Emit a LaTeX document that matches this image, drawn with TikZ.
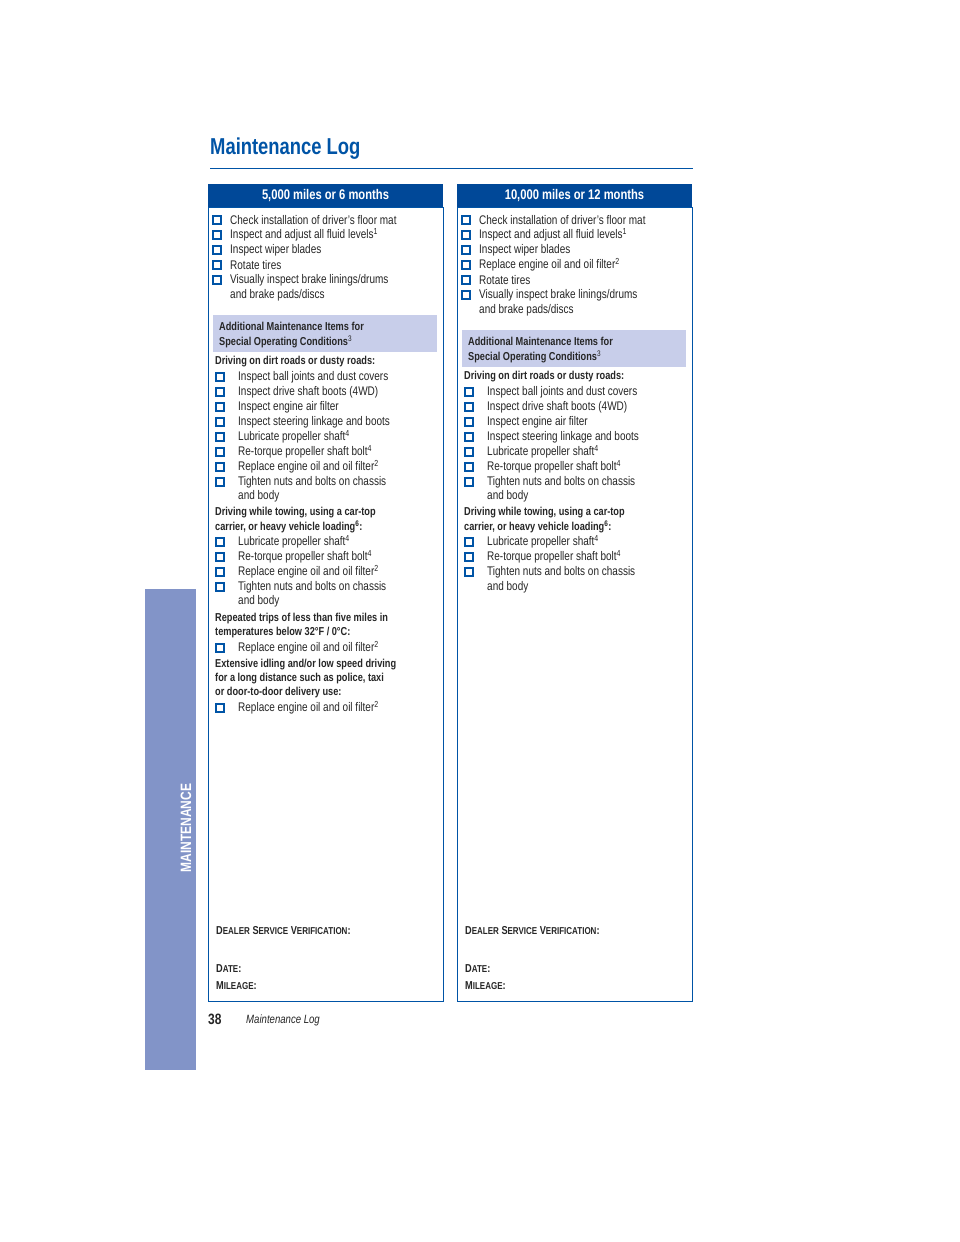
\documentclass[tikz,border=0pt]{standalone}
\usepackage{fontspec}
\setmainfont{Liberation Sans}[FakeStretch=0.8]
\definecolor{tblue}{RGB}{0,84,166}
\definecolor{hblue}{RGB}{0,72,152}
\definecolor{side}{RGB}{130,148,200}
\definecolor{gbox}{RGB}{200,206,234}
\newcommand\cbx[4]{\draw[cb] (#1-4,#2-4) rectangle (#1+4,#2+4); \node[txt] at (#3,#2) {#4};}
\newcommand\lnx[3]{\node[txt] at (#1,#2) {#3};}
\newcommand\hd[3]{\node[hdt] at (#1,#2) {#3};}
\newcommand\sct[1]{{\fontsize{10}{12}\selectfont\bfseries #1}}
\begin{document}
\begin{tikzpicture}[x=1pt,y=-1pt,
 txt/.style={anchor=west,inner sep=0,font=\fontsize{12.5}{15}\selectfont,text=black!85},
 hdt/.style={anchor=west,inner sep=0,font=\fontsize{11.5}{14}\selectfont\bfseries,text=black!85},
 cb/.style={draw=tblue,line width=1.1pt},
 panel/.style={draw=tblue,line width=0.8pt}]
\useasboundingbox (0,0) rectangle (960,1242);
\fill[white] (0,0) rectangle (960,1242);
\node[anchor=west,inner sep=0,font=\fontsize{23}{26}\selectfont\bfseries,text=tblue] (title) at (210,149) {Maintenance Log};
\draw[tblue,line width=0.6pt] (210,168) -- (693,168);
% sidebar
\fill[side] (145,589) rectangle (196,1070);
\node[rotate=90,font=\fontsize{15}{18}\selectfont\bfseries,text=white] (side) at (186,828) {MAINTENANCE};
% footer
\node[anchor=west,inner sep=0,font=\fontsize{15}{18}\selectfont\bfseries,text=black!85] (pg) at (208,1019) {38};
\node[anchor=west,inner sep=0,font=\fontsize{12}{14}\selectfont\itshape,text=black!85] (ft) at (246,1020) {Maintenance Log};
% left panel
\draw[panel] (208,207) rectangle (443,1001);
\fill[hblue] (208,184) rectangle (443,207);
\node[font=\fontsize{14}{16}\selectfont\bfseries,text=white] (h1) at (325.5,195.5) {5,000 miles or 6 months};
\cbx{217}{220}{230}{Check installation of driver’s floor mat}
\cbx{217}{235}{230}{Inspect and adjust all fluid levels\textsuperscript{1}}
\cbx{217}{250}{230}{Inspect wiper blades}
\cbx{217}{265}{230}{Rotate tires}
\cbx{217}{280}{230}{Visually inspect brake linings/drums}
\lnx{230}{295}{and brake pads/discs}
\fill[gbox] (213,315) rectangle (437,352);
\hd{219}{326}{Additional Maintenance Items for}
\hd{219}{342}{Special Operating Conditions\textsuperscript{\normalfont 3}}
\hd{215}{362}{Driving on dirt roads or dusty roads:}
\cbx{220}{377}{238}{Inspect ball joints and dust covers}
\cbx{220}{392}{238}{Inspect drive shaft boots (4WD)}
\cbx{220}{407}{238}{Inspect engine air filter}
\cbx{220}{422}{238}{Inspect steering linkage and boots}
\cbx{220}{437}{238}{Lubricate propeller shaft\textsuperscript{4}}
\cbx{220}{452}{238}{Re-torque propeller shaft bolt\textsuperscript{4}}
\cbx{220}{467}{238}{Replace engine oil and oil filter\textsuperscript{2}}
\cbx{220}{482}{238}{Tighten nuts and bolts on chassis}
\lnx{238}{496}{and body}
\hd{215}{513}{Driving while towing, using a car-top}
\hd{215}{527}{carrier, or heavy vehicle loading\textsuperscript{6}:}
\cbx{220}{542}{238}{Lubricate propeller shaft\textsuperscript{4}}
\cbx{220}{557}{238}{Re-torque propeller shaft bolt\textsuperscript{4}}
\cbx{220}{572}{238}{Replace engine oil and oil filter\textsuperscript{2}}
\cbx{220}{587}{238}{Tighten nuts and bolts on chassis}
\lnx{238}{601}{and body}
\hd{215}{619}{Repeated trips of less than five miles in}
\hd{215}{633}{temperatures below 32°F / 0°C:}
\cbx{220}{648}{238}{Replace engine oil and oil filter\textsuperscript{2}}
\hd{215}{665}{Extensive idling and/or low speed driving}
\hd{215}{679}{for a long distance such as police, taxi}
\hd{215}{693}{or door-to-door delivery use:}
\cbx{220}{708}{238}{Replace engine oil and oil filter\textsuperscript{2}}
\hd{216}{931}{D\sct{EALER} S\sct{ERVICE} V\sct{ERIFICATION}:}
\hd{216}{969}{D\sct{ATE}:}
\hd{216}{986}{M\sct{ILEAGE}:}
% right panel
\draw[panel] (457,207) rectangle (692,1001);
\fill[hblue] (457,184) rectangle (692,207);
\node[font=\fontsize{14}{16}\selectfont\bfseries,text=white] (h2) at (574.5,195.5) {10,000 miles or 12 months};
\cbx{466}{220}{479}{Check installation of driver’s floor mat}
\cbx{466}{235}{479}{Inspect and adjust all fluid levels\textsuperscript{1}}
\cbx{466}{250}{479}{Inspect wiper blades}
\cbx{466}{265}{479}{Replace engine oil and oil filter\textsuperscript{2}}
\cbx{466}{280}{479}{Rotate tires}
\cbx{466}{295}{479}{Visually inspect brake linings/drums}
\lnx{479}{310}{and brake pads/discs}
\fill[gbox] (462,330) rectangle (686,367);
\hd{468}{341}{Additional Maintenance Items for}
\hd{468}{357}{Special Operating Conditions\textsuperscript{\normalfont 3}}
\hd{464}{377}{Driving on dirt roads or dusty roads:}
\cbx{469}{392}{487}{Inspect ball joints and dust covers}
\cbx{469}{407}{487}{Inspect drive shaft boots (4WD)}
\cbx{469}{422}{487}{Inspect engine air filter}
\cbx{469}{437}{487}{Inspect steering linkage and boots}
\cbx{469}{452}{487}{Lubricate propeller shaft\textsuperscript{4}}
\cbx{469}{467}{487}{Re-torque propeller shaft bolt\textsuperscript{4}}
\cbx{469}{482}{487}{Tighten nuts and bolts on chassis}
\lnx{487}{496}{and body}
\hd{464}{513}{Driving while towing, using a car-top}
\hd{464}{527}{carrier, or heavy vehicle loading\textsuperscript{6}:}
\cbx{469}{542}{487}{Lubricate propeller shaft\textsuperscript{4}}
\cbx{469}{557}{487}{Re-torque propeller shaft bolt\textsuperscript{4}}
\cbx{469}{572}{487}{Tighten nuts and bolts on chassis}
\lnx{487}{587}{and body}
\hd{465}{931}{D\sct{EALER} S\sct{ERVICE} V\sct{ERIFICATION}:}
\hd{465}{969}{D\sct{ATE}:}
\hd{465}{986}{M\sct{ILEAGE}:}
\end{tikzpicture}
\end{document}
